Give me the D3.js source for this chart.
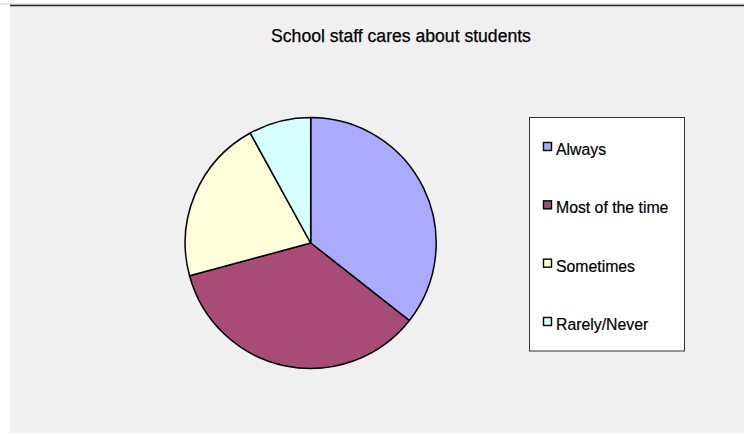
<!DOCTYPE html>
<html><head><meta charset="utf-8">
<script src="https://cdn.jsdelivr.net/npm/d3@7"></script>
<style>html,body{margin:0;padding:0;background:#fff;}svg{display:block;}</style>
</head><body>
<svg id="chart" width="744" height="434"></svg>
<script>
const title = "School staff cares about students";
const categories = ["Always", "Most of the time", "Sometimes", "Rarely/Never"];
const values = [35.6, 35.2, 21.2, 8.0];
const colors = ["#aaaaff", "#a94b77", "#ffffdb", "#d6ffff"];

const svg = d3.select("#chart");
const W = 744, H = 434;
svg.append("rect").attr("x", 10).attr("y", 5).attr("width", W - 10).attr("height", H - 6).attr("fill", "#f0f0f0");
svg.append("line").attr("x1", 0).attr("x2", W).attr("y1", 4).attr("y2", 4).attr("stroke", "#c8c8c8").attr("stroke-width", 1);
svg.append("line").attr("x1", 10).attr("x2", W).attr("y1", 5.5).attr("y2", 5.5).attr("stroke", "#222").attr("stroke-width", 1.6);

svg.append("text").attr("x", 401).attr("y", 42).attr("text-anchor", "middle")
  .attr("font-family", "Liberation Sans, Arial, sans-serif").attr("font-size", 17.6).attr("fill", "#000")
  .attr("stroke", "#000").attr("stroke-width", 0.25)
  .text(title);

const cx = 310.7, cy = 243, r = 125.5;
const pie = d3.pie().sort(null).value(d => d)(values);
const arc = d3.arc().innerRadius(0).outerRadius(r);
const g = svg.append("g").attr("transform", `translate(${cx},${cy})`);
g.selectAll("path").data(pie).join("path")
  .attr("d", arc).attr("fill", (d, i) => colors[i])
  .attr("stroke", "#000").attr("stroke-width", 1.5).attr("stroke-linejoin", "round");

// legend
const lx = 529.5, ly = 117.5, lw = 155, lh = 233.5;
svg.append("rect").attr("x", lx).attr("y", ly).attr("width", lw).attr("height", lh)
  .attr("fill", "#fff").attr("stroke", "#333").attr("stroke-width", 1);
const ys = d3.scalePoint().domain(categories).range([155, 330]);
const lg = svg.append("g");
categories.forEach((c, i) => {
  const y = ys(c);
  lg.append("rect").attr("x", 543.5).attr("y", y - 12.5).attr("width", 8).attr("height", 8)
    .attr("fill", colors[i]).attr("stroke", "#000").attr("stroke-width", 1.4);
  lg.append("text").attr("x", 556).attr("y", y)
    .attr("font-family", "Liberation Sans, Arial, sans-serif").attr("font-size", 15.8).attr("fill", "#000")
    .attr("stroke", "#000").attr("stroke-width", 0.2)
    .text(c);
});
</script>
</body></html>
